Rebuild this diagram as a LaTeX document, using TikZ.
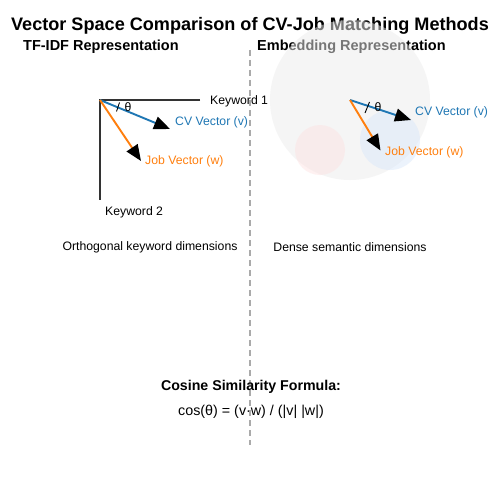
\documentclass[tikz,border=0pt]{standalone}
\usepackage{fontspec}
\setmainfont{Liberation Sans}
\usetikzlibrary{arrows.meta}
\definecolor{mblue}{HTML}{1F77B4}
\definecolor{morange}{HTML}{FF7F0E}
\definecolor{axisgray}{HTML}{333333}
\definecolor{dashgray}{HTML}{AAAAAA}
\tikzset{
  lbl/.style={inner sep=0pt, font=\fontsize{12.25}{14}\selectfont},
  hdr/.style={inner sep=0pt, font=\bfseries\fontsize{14.5}{17}\selectfont},
  axisline/.style={draw=axisgray, line width=2.2pt},
  vec/.style={line width=1.9pt, -{Triangle[length=16pt,width=13pt,color=black]}},
  anglemark/.style={draw=black, line width=0.9pt},
}
\begin{document}
\begin{tikzpicture}[x=1pt,y=-1pt]
\useasboundingbox (0,0) rectangle (500,500);
\fill[white] (0,0) rectangle (500,500);
% divider
\coordinate (d1) at (250,50);
\coordinate (d2) at (250,445);
\draw[dashgray, line width=1.5pt, dash pattern=on 6pt off 4pt] (d1) -- (d2);
% titles
\node[inner sep=0pt, font=\bfseries\fontsize{18.1}{21}\selectfont] (title) at (250,25.5) {Vector Space Comparison of CV-Job Matching Methods};
\node[hdr, anchor=west] (h1) at (23,46.5) {TF-IDF Representation};
\node[hdr, anchor=west] (h2) at (257,46.5) {Embedding Representation};
% embedding circles
\fill[fill={rgb,255:red,236;green,236;blue,236}, fill opacity=0.5] (350,100) circle (80);
\fill[fill={rgb,255:red,253;green,225;blue,225}, fill opacity=0.45] (320,150) circle (25);
\fill[fill={rgb,255:red,215;green,230;blue,250}, fill opacity=0.45] (390,140) circle (30);
% TF-IDF axes
\coordinate (o1) at (100,100);
\coordinate (k1end) at (200,100);
\coordinate (k2end) at (100,200);
\draw[axisline] (k1end) -- (o1) -- (k2end);
\node[lbl, anchor=west] (k1) at (210,101.5) {Keyword 1};
\node[lbl, anchor=west] (k2) at (105,212.5) {Keyword 2};
\coordinate (cv1) at (170,129);
\coordinate (job1) at (141,161);
\draw[vec, mblue] (o1) -- (cv1);
\draw[vec, morange] (o1) -- (job1);
\node[lbl, anchor=west, text=mblue] (cvl1) at (175,122.5) {CV Vector (v)};
\node[lbl, anchor=west, text=morange] (jobl1) at (145,161.5) {Job Vector (w)};
\coordinate (a1s) at (116.5,111.5);
\coordinate (a1e) at (119.5,102.5);
\draw[anglemark] (a1s) -- (a1e);
\node[lbl] (t1) at (128,107.5) {θ};
% Embedding vectors
\coordinate (o2) at (350,100);
\coordinate (cv2) at (411,120);
\coordinate (job2) at (380.5,150.5);
\draw[vec, mblue] (o2) -- (cv2);
\draw[vec, morange] (o2) -- (job2);
\node[lbl, anchor=west, text=mblue] (cvl2) at (415,112.5) {CV Vector (v)};
\node[lbl, anchor=west, text=morange] (jobl2) at (385,152.5) {Job Vector (w)};
\coordinate (a2s) at (365,113);
\coordinate (a2e) at (369.5,102);
\draw[anglemark] (a2s) -- (a2e);
\node[lbl] (t2) at (378,107.5) {θ};
% captions
\node[lbl] (c1) at (150,247.5) {Orthogonal keyword dimensions};
\node[lbl] (c2) at (350,247.5) {Dense semantic dimensions};
% formula
\node[inner sep=0pt, font=\bfseries\fontsize{14.2}{17}\selectfont] (fh) at (251,386.5) {Cosine Similarity Formula:};
\node[inner sep=0pt, font=\fontsize{14.3}{17}\selectfont] (ff) at (251,411.5) {cos(θ) = (v·w) / (|v| |w|)};
\end{tikzpicture}
\end{document}
